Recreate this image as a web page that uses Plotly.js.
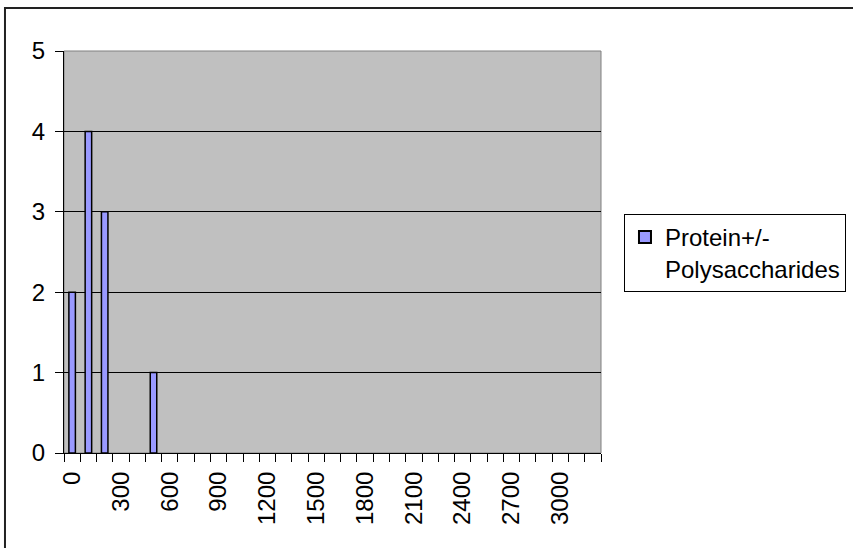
<!DOCTYPE html>
<html>
<head>
<meta charset="utf-8">
<script src="https://cdn.plot.ly/plotly-3.0.1.min.js"></script>
<style>
html,body{margin:0;padding:0;background:#fff;}
#chart{width:853px;height:548px;}
</style>
</head>
<body>
<div id="chart"></div>
<script>
var categories = ["0","100","200","300","400","500","600","700","800","900","1000",
  "1100","1200","1300","1400","1500","1600","1700","1800","1900","2000",
  "2100","2200","2300","2400","2500","2600","2700","2800","2900","3000","3100","3200"];
var values = [2,4,3,null,null,1,null,null,null,null,null,
  null,null,null,null,null,null,null,null,null,null,
  null,null,null,null,null,null,null,null,null,null,null,null];
var tickLabels = ["0","300","600","900","1200","1500","1800","2100","2400","2700","3000"];
var seriesName = "Protein+/-<br>Polysaccharides";

var trace = {
  type: "bar",
  x: categories,
  y: values,
  name: seriesName,
  marker: {color: "#9999ff", line: {color: "#000000", width: 1.5}},
  showlegend: true
};

// helper trace (no visible marks) so the boundary-tick axis is drawn
var tickHelper = {
  type: "scatter",
  mode: "none",
  x: categories.map(function(c, i){ return i; }),
  y: values.map(function(){ return null; }),
  xaxis: "x2",
  yaxis: "y",
  showlegend: false,
  hoverinfo: "skip"
};

var layout = {
  width: 853, height: 548,
  margin: {l: 64, r: 252, t: 51, b: 95, autoexpand: false},
  paper_bgcolor: "#ffffff",
  plot_bgcolor: "#c0c0c0",
  font: {family: "Liberation Sans, Arial, sans-serif", color: "#000000", size: 24},
  bargap: 0.6,
  xaxis: {
    type: "category",
    categoryorder: "array",
    categoryarray: categories,
    range: [-0.5, categories.length - 0.5],
    tickmode: "array",
    tickvals: tickLabels,
    ticktext: tickLabels,
    tickangle: -90,
    ticks: "outside",
    ticklen: 8,
    tickcolor: "rgba(0,0,0,0)",
    showgrid: false,
    zeroline: false,
    showline: true,
    linecolor: "#000000",
    linewidth: 1,
    tickfont: {size: 24},
    automargin: false,
    fixedrange: true
  },
  xaxis2: {
    overlaying: "x",
    anchor: "y",
    side: "bottom",
    type: "linear",
    range: [-0.5, categories.length - 0.5],
    tickmode: "linear",
    tick0: -0.5,
    dtick: 1,
    ticks: "outside",
    ticklen: 8,
    tickcolor: "#000000",
    tickwidth: 1,
    showticklabels: false,
    showgrid: false,
    zeroline: false,
    showline: true,
    linecolor: "#000000",
    fixedrange: true
  },
  yaxis: {
    range: [0, 5],
    tickmode: "linear",
    tick0: 0,
    dtick: 1,
    ticks: "outside",
    ticklen: 8,
    tickcolor: "#000000",
    ticklabelstandoff: 5,
    showgrid: true,
    gridcolor: "#000000",
    gridwidth: 1,
    zeroline: false,
    showline: true,
    linecolor: "#000000",
    linewidth: 1,
    tickfont: {size: 24},
    automargin: false,
    fixedrange: true
  },
  legend: {
    x: 1.0428, xanchor: "left",
    y: 0.5945, yanchor: "top",
    bordercolor: "#000000",
    borderwidth: 1,
    bgcolor: "#ffffff",
    font: {size: 24},
    valign: "top",
    itemsizing: "constant"
  },
  shapes: [
    {type: "rect", xref: "paper", yref: "paper", x0: 0, x1: 1, y0: 0, y1: 1,
     line: {color: "#808080", width: 1}, layer: "below"},
    {type: "path", xref: "paper", yref: "paper",
     path: "M -0.1099,-0.3 L -0.1099,1.107 L 1.5,1.107",
     line: {color: "#222222", width: 2}}
  ]
};

Plotly.newPlot("chart", [trace, tickHelper], layout, {displayModeBar: false, staticPlot: true});
</script>
</body>
</html>
